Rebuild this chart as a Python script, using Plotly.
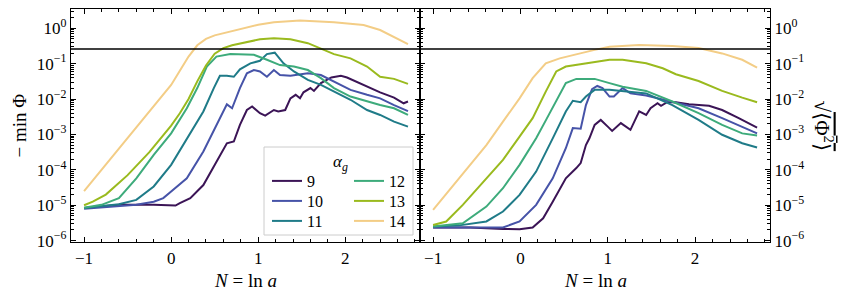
import numpy as np
import plotly.graph_objects as go

# ---------------- data (log10 of the plotted quantity) ----------------
alphas = ["9", "10", "11", "12", "13", "14"]
colors = ["#3b1456", "#4653a8", "#1f7b88", "#3dab7b", "#9aba1e", "#f3cd86"]

# left panel: -min Phi
L9_x = [-1, -0.6, -0.2, 0.05, 0.10, 0.22, 0.37, 0.52, 0.64, 0.72, 0.79, 0.87, 0.93, 1.02, 1.08, 1.18, 1.23,
        1.31, 1.37, 1.43, 1.48, 1.52, 1.60, 1.64, 1.72, 1.84, 1.95, 2.02, 2.14, 2.25, 2.40, 2.56, 2.67, 2.72]
L9_y = [-5.08, -4.99, -4.99, -5.01, -4.94, -4.80, -4.43, -3.77, -3.25, -3.2, -2.73, -2.31, -2.21, -2.40, -2.47,
        -2.31, -2.35, -2.31, -1.98, -1.88, -1.98, -1.81, -1.69, -1.77, -1.55, -1.39, -1.34, -1.39, -1.53, -1.65,
        -1.81, -1.96, -2.12, -2.07]
L10_x = [-1, -0.4, -0.2, -0.09, 0, 0.18, 0.37, 0.52, 0.64, 0.70, 0.79, 0.87, 0.95, 1.02, 1.10, 1.18, 1.25,
         1.37, 1.57, 1.72, 1.87, 2.06, 2.25, 2.40, 2.56, 2.72]
L10_y = [-5.10, -4.99, -4.90, -4.8, -4.61, -4.24, -3.48, -2.73, -2.15, -2.26, -1.69, -1.27, -1.18, -1.22, -1.37,
         -1.18, -1.32, -1.34, -1.27, -1.32, -1.51, -1.74, -1.88, -1.98, -2.17, -2.34]
L11_x = [-1, -0.6, -0.4, -0.2, 0, 0.18, 0.37, 0.49, 0.56, 0.64, 0.72, 0.79, 0.85, 0.91, 1.02, 1.10, 1.19, 1.29,
         1.41, 1.57, 1.72, 1.87, 2.06, 2.25, 2.40, 2.56, 2.72]
L11_y = [-5.08, -4.97, -4.85, -4.47, -3.86, -3.11, -2.35, -1.69, -1.34, -1.34, -1.37, -1.16, -1.08, -0.99, -0.92,
         -0.73, -0.69, -0.99, -1.22, -1.46, -1.60, -1.79, -2.02, -2.31, -2.45, -2.64, -2.78]
L12_x = [-1, -0.8, -0.6, -0.4, -0.2, 0, 0.18, 0.3, 0.41, 0.52, 0.68, 0.85, 0.95, 1.10, 1.25, 1.41, 1.57, 1.72,
         1.87, 2.06, 2.25, 2.40, 2.56, 2.72]
L12_y = [-5.07, -4.99, -4.8, -4.24, -3.58, -2.97, -2.26, -1.69, -1.08, -0.80, -0.73, -0.73, -0.75, -0.89, -1.04,
         -1.08, -1.18, -1.41, -1.69, -1.93, -2.07, -2.17, -2.26, -2.45]
L13_x = [-1, -0.9, -0.75, -0.5, -0.25, 0, 0.1, 0.2, 0.3, 0.4, 0.5, 0.6, 0.7, 0.85, 1.02, 1.18, 1.37, 1.57, 1.72,
         1.87, 2.06, 2.25, 2.40, 2.56, 2.72]
L13_y = [-5.0, -4.9, -4.7, -4.15, -3.5, -2.75, -2.4, -2.0, -1.5, -1.05, -0.72, -0.56, -0.48, -0.40, -0.31, -0.28,
         -0.31, -0.42, -0.58, -0.73, -0.85, -1.08, -1.37, -1.43, -1.57]
L14_x = [-1, -0.75, -0.5, -0.25, 0, 0.1, 0.2, 0.3, 0.4, 0.5, 0.7, 0.85, 1.0, 1.18, 1.48, 1.87, 2.21, 2.40, 2.56,
         2.72]
L14_y = [-4.6, -3.85, -3.1, -2.35, -1.6, -1.2, -0.8, -0.48, -0.3, -0.2, -0.08, 0.02, 0.1, 0.17, 0.22, 0.17, 0.09,
         -0.05, -0.24, -0.45]

# right panel: sqrt(<Phi^2>)
R9_x = [-1, -0.58, -0.2, -0.01, 0.14, 0.26, 0.37, 0.52, 0.64, 0.69, 0.75, 0.79, 0.85, 0.92, 1.0, 1.05, 1.15,
        1.26, 1.36, 1.44, 1.49, 1.57, 1.61, 1.68, 1.78, 1.93, 2.16, 2.31, 2.50, 2.71]
R9_y = [-5.63, -5.63, -5.67, -5.68, -5.63, -5.37, -4.90, -4.24, -3.95, -3.81, -3.30, -3.11, -2.73, -2.59, -2.78,
        -2.90, -2.68, -2.87, -2.35, -2.45, -2.26, -2.12, -2.19, -2.09, -2.09, -2.15, -2.19, -2.31, -2.54, -2.81]
R10_x = [-1, -0.2, -0.01, 0.18, 0.37, 0.52, 0.60, 0.69, 0.75, 0.82, 0.88, 0.94, 1.02, 1.07, 1.17, 1.26, 1.44,
         1.74, 2.04, 2.31, 2.54, 2.71]
R10_y = [-5.63, -5.63, -5.46, -4.99, -4.24, -3.39, -2.82, -2.84, -2.17, -1.72, -1.63, -1.69, -1.93, -1.93, -1.69,
         -1.84, -1.90, -2.09, -2.26, -2.54, -2.78, -2.97]
R11_x = [-1, -0.7, -0.39, -0.2, -0.01, 0.18, 0.37, 0.52, 0.60, 0.69, 0.75, 0.85, 1.02, 1.17, 1.44, 1.74, 2.04,
         2.31, 2.54, 2.71]
R11_y = [-5.60, -5.57, -5.46, -5.18, -4.71, -4.05, -3.11, -2.35, -2.05, -2.09, -1.93, -1.74, -1.74, -1.77, -1.84,
         -2.17, -2.59, -3.01, -3.25, -3.37]
R12_x = [-1, -0.66, -0.39, -0.2, -0.01, 0.18, 0.3, 0.45, 0.52, 0.64, 0.85, 1.02, 1.17, 1.44, 1.74, 2.04, 2.31,
         2.54, 2.71]
R12_y = [-5.60, -5.51, -5.04, -4.52, -3.86, -3.11, -2.56, -1.88, -1.55, -1.43, -1.43, -1.55, -1.65, -1.77, -2.07,
         -2.40, -2.73, -2.97, -3.03]
R13_x = [-1, -0.85, -0.66, -0.39, -0.2, -0.01, 0.14, 0.29, 0.41, 0.52, 0.67, 0.85, 1.02, 1.17, 1.44, 1.63, 1.78,
         2.04, 2.31, 2.54, 2.71]
R13_y = [-5.56, -5.46, -4.99, -4.24, -3.72, -3.06, -2.54, -1.79, -1.22, -1.08, -1.02, -0.94, -0.89, -0.89, -0.99,
         -1.13, -1.30, -1.49, -1.77, -1.96, -2.09]
R14_x = [-1, -0.77, -0.58, -0.39, -0.2, -0.01, 0.14, 0.29, 0.45, 0.64, 0.85, 1.02, 1.36, 1.74, 2.04, 2.31, 2.54,
         2.71]
R14_y = [-5.13, -4.43, -3.86, -3.30, -2.64, -1.98, -1.41, -0.99, -0.85, -0.73, -0.61, -0.52, -0.47, -0.50, -0.56,
         -0.71, -0.89, -1.11]

threshold = 0.26  # horizontal reference line

x_ticks = [-1, 0, 1, 2]
x_ticktext = ["\u22121", "0", "1", "2"]
y_decades = [-6, -5, -4, -3, -2, -1, 0]

left_series = [(L9_x, L9_y), (L10_x, L10_y), (L11_x, L11_y), (L12_x, L12_y), (L13_x, L13_y), (L14_x, L14_y)]
right_series = [(R9_x, R9_y), (R10_x, R10_y), (R11_x, R11_y), (R12_x, R12_y), (R13_x, R13_y), (R14_x, R14_y)]

# ---------------- figure ----------------
W, H = 843, 294
ml, mr, mt, mb = 71, 73, 9, 52
pw, ph = W - ml - mr, H - mt - mb
split = 349 / pw

FONT = "'Liberation Serif', 'Times New Roman', 'DejaVu Serif', serif"

def px_x(p):
    return (p - ml) / pw

def px_y(p):
    return (H - mb - p) / ph

# legend slots: (column left px, row centre px)
legend_slots = [(267, 181), (267, 201), (267, 221), (349, 181), (349, 201), (349, 221)]
legend_names = ["legend", "legend2", "legend3", "legend4", "legend5", "legend6"]

fig = go.Figure()
for i, a in enumerate(alphas):
    xs, ys = left_series[i]
    fig.add_trace(go.Scatter(x=xs, y=10 ** np.array(ys), mode="lines", name=a,
                             line=dict(color=colors[i], width=2),
                             legend=legend_names[i], xaxis="x", yaxis="y"))
for i, a in enumerate(alphas):
    xs, ys = right_series[i]
    fig.add_trace(go.Scatter(x=xs, y=10 ** np.array(ys), mode="lines", name=a,
                             line=dict(color=colors[i], width=2), showlegend=False,
                             xaxis="x2", yaxis="y2"))

y_tickvals = [10.0 ** d for d in y_decades]
y_ticktext = ["10<sup>%s</sup>" % (("\u2212%d" % -d) if d < 0 else str(d)) for d in y_decades]
y_minor = [m * 10.0 ** d for d in range(-7, 1) for m in range(2, 10)]

common_x = dict(range=[-1.15, 2.858], tickvals=x_ticks, ticktext=x_ticktext, ticks="inside", ticklen=5,
                tickwidth=1, tickcolor="black", showline=True, linecolor="black", linewidth=1.3,
                mirror="allticks", showgrid=False, zeroline=False, automargin=False,
                minor=dict(dtick=0.2, tick0=0, ticks="inside", ticklen=2.5, tickcolor="black", showgrid=False),
                tickfont=dict(size=17, color="black", family=FONT))
common_y = dict(type="log", range=[-6.04, 0.545], tickvals=y_tickvals, ticktext=y_ticktext, ticks="inside",
                ticklen=5, tickwidth=1, tickcolor="black", showline=True, linecolor="black", linewidth=1.3,
                mirror="allticks", showgrid=False, zeroline=False, automargin=False,
                minor=dict(tickvals=y_minor, ticks="inside", ticklen=2.5, tickcolor="black", showgrid=False),
                tickfont=dict(size=17, color="black", family=FONT))

layout = dict(
    width=W, height=H, margin=dict(l=ml, r=mr, t=mt, b=mb, autoexpand=False),
    paper_bgcolor="white", plot_bgcolor="white",
    font=dict(family=FONT, size=16, color="black"),
    xaxis=dict(domain=[0, split], anchor="y", **common_x),
    xaxis2=dict(domain=[split, 1], anchor="y2", **common_x),
    yaxis=dict(domain=[0, 1], anchor="x", side="left", **common_y),
    yaxis2=dict(domain=[0, 1], anchor="x2", side="right", **common_y),
    showlegend=True,
)
for name, (lx, ly) in zip(legend_names, legend_slots):
    layout[name] = dict(x=px_x(lx), y=px_y(ly), xanchor="left", yanchor="middle",
                        bgcolor="rgba(0,0,0,0)", borderwidth=0, font=dict(size=16, family=FONT),
                        itemwidth=30)
fig.update_layout(**layout)

# horizontal reference line in both panels
for xr, yr in (("x", "y"), ("x2", "y2")):
    fig.add_shape(type="line", xref=xr + " domain", yref=yr, x0=0, x1=1, y0=threshold, y1=threshold,
                  line=dict(color="black", width=1.3), layer="above")

# legend frame
fig.add_shape(type="rect", xref="paper", yref="paper",
              x0=px_x(264), x1=px_x(413), y0=px_y(235), y1=px_y(147),
              fillcolor="white", line=dict(color="#cccccc", width=1), layer="above")

# titles
ann = dict(xref="paper", yref="paper", showarrow=False, xanchor="center", yanchor="middle")
fig.add_annotation(x=px_x(340), y=px_y(163), text="<i>\u03b1</i><sub><i>g</i></sub>",
                   font=dict(size=17, family=FONT), **ann)
for xc in ((71 + 420) / 2, (420 + 770) / 2):
    fig.add_annotation(x=px_x(xc), y=px_y(280), text="<i>N</i> = ln <i>a</i>",
                       font=dict(size=19, family=FONT), **ann)
fig.add_annotation(x=px_x(19), y=0.5, textangle=-90, text="\u2212 min \u03a6",
                   font=dict(size=19, family=FONT), **ann)
fig.add_annotation(x=px_x(823), y=0.5, textangle=90,
                   text="\u221a<span style='text-decoration:overline'>\u27e8\u03a6<sup>2</sup>\u27e9</span>",
                   font=dict(size=21, family=FONT), **ann)

fig.write_html("out.html", config={"displayModeBar": False},
               post_script="document.body.style.margin='0';document.body.style.padding='0';"
                           "document.body.style.overflow='hidden';")
